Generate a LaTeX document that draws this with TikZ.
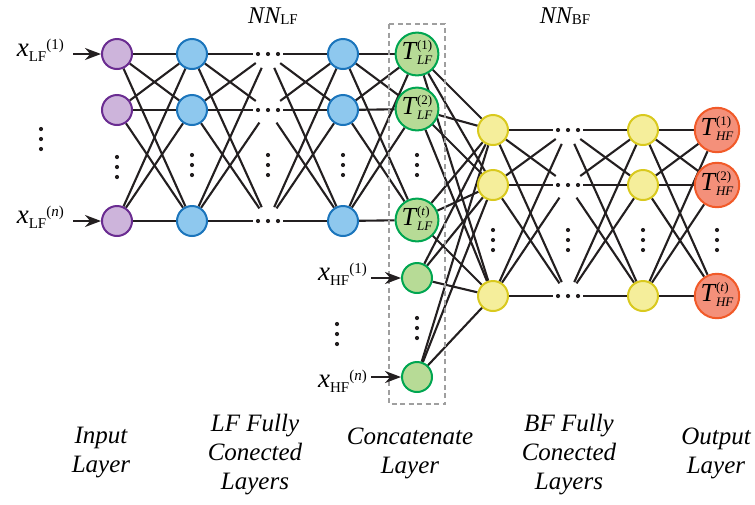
\documentclass[tikz,border=0pt]{standalone}
\usepackage{fontspec}
\setmainfont{Liberation Serif}
\newfontfamily\labelfont{Liberation Serif}
\usetikzlibrary{arrows.meta,backgrounds}

\definecolor{inFill}{HTML}{CDB4DB}\definecolor{inLine}{HTML}{6A2C91}
\definecolor{lfFill}{HTML}{8EC8EE}\definecolor{lfLine}{HTML}{1B75BC}
\definecolor{catFill}{HTML}{B7DB96}\definecolor{catLine}{HTML}{00A651}
\definecolor{bfFill}{HTML}{F5EE9B}\definecolor{bfLine}{HTML}{D9C91E}
\definecolor{outFill}{HTML}{F4907A}\definecolor{outLine}{HTML}{F15A29}
\definecolor{ink}{HTML}{231F20}

% sizes of the small index text
\newcommand\subidx[1]{{\fontsize{15}{15}\selectfont #1}}
% T with stacked super- and subscript
\newcommand\tlab[2]{{\labelfont\fontsize{26}{26}\selectfont\itshape T}\kern1pt%
  \raisebox{-5pt}{\fontsize{13}{15}\selectfont\renewcommand\arraystretch{1}%
  \begin{tabular}[b]{@{}l@{}}(#1)\\\itshape #2\end{tabular}}}
% x input label
\newcommand\xlab[2]{{\labelfont\fontsize{27}{27}\selectfont\itshape x}\raisebox{-5pt}{\subidx{#1}}\raisebox{7pt}{\subidx{(#2)}}}
% network name
\newcommand\nnlab[1]{{\fontsize{24}{24}\selectfont\itshape NN}\raisebox{-1pt}{{\fontsize{15}{15}\selectfont #1}}}
% rows and columns of dots
\newcommand\rowdots[1]{\foreach \d in {-10,0,10} \fill[ink] (#1) ++(\d,0) circle[radius=2.1];}
\newcommand\coldots[2]{\foreach \d in {-10,0,10} \fill[ink] (#1,#2) ++(0,\d) circle[radius=2.1];}

\tikzset{
  x=1pt, y=-1pt,
  font=\labelfont,
  neuron/.style={circle, inner sep=0pt, minimum size=30pt, line width=2pt},
  inneuron/.style={neuron, draw=inLine, fill=inFill},
  lfneuron/.style={neuron, draw=lfLine, fill=lfFill},
  catneuron/.style={neuron, draw=catLine, fill=catFill},
  tneuron/.style={neuron, minimum size=38pt, draw=catLine, fill=catFill},
  bfneuron/.style={neuron, draw=bfLine, fill=bfFill},
  outneuron/.style={neuron, minimum size=39pt, draw=outLine, fill=outFill},
  ghost/.style={circle, inner sep=0pt, minimum size=30pt},
  link/.style={draw=ink, line width=2.1pt},
  feed/.style={draw=ink, line width=2.1pt, -{Stealth[length=16pt,width=12pt]}},
  catbox/.style={draw=gray!75, line width=1.7pt, dash pattern=on 5pt off 3.5pt},
  caption/.style={align=center, font=\labelfont\fontsize{25}{29}\selectfont\itshape},
  title/.style={inner sep=0pt},
  xlabel/.style={inner sep=0pt, anchor=east}
}

\begin{document}
\begin{tikzpicture}
\useasboundingbox (0,0) rectangle (755,504);

% input layer
\node[inneuron] (i1) at (117,54) {};
\node[inneuron] (i2) at (117,110) {};
\node[inneuron] (i3) at (117,221) {};
% LF fully connected layers
\node[lfneuron] (h1) at (192,54) {};
\node[lfneuron] (h2) at (192,110) {};
\node[lfneuron] (h3) at (192,221) {};
\node[ghost] (p1) at (268,54) {};
\node[ghost] (p2) at (268,110) {};
\node[ghost] (p3) at (268,221) {};
\node[lfneuron] (g1) at (343,54) {};
\node[lfneuron] (g2) at (343,110) {};
\node[lfneuron] (g3) at (343,221) {};
% concatenate layer
\node[tneuron] (t1) at (417,54) {\tlab{1}{LF}};
\node[tneuron] (t2) at (417,109) {\tlab{2}{LF}};
\node[tneuron] (t3) at (417,220) {\tlab{\textit{t}}{LF}};
\node[catneuron] (c1) at (417,278) {};
\node[catneuron] (c2) at (417,377) {};
% BF fully connected layers
\node[bfneuron] (y1) at (493,130) {};
\node[bfneuron] (y2) at (493,185) {};
\node[bfneuron] (y3) at (493,296) {};
\node[ghost] (q1) at (568,130) {};
\node[ghost] (q2) at (568,185) {};
\node[ghost] (q3) at (568,296) {};
\node[bfneuron] (z1) at (643,130) {};
\node[bfneuron] (z2) at (643,185) {};
\node[bfneuron] (z3) at (643,296) {};
% output layer
\node[outneuron] (o1) at (717,130) {\tlab{1}{HF}};
\node[outneuron] (o2) at (717,185) {\tlab{2}{HF}};
\node[outneuron] (o3) at (717,296) {\tlab{\textit{t}}{HF}};

% connections, behind the neurons
\begin{scope}[on background layer]
  \foreach \a in {i1,i2,i3} \foreach \b in {h1,h2,h3} \draw[link] (\a) -- (\b);
  \foreach \a in {h1,h2,h3} \foreach \b in {p1,p2,p3} \draw[link] (\a) -- (\b);
  \foreach \a in {p1,p2,p3} \foreach \b in {g1,g2,g3} \draw[link] (\a) -- (\b);
  \foreach \a in {g1,g2,g3} \foreach \b in {t1,t2,t3} \draw[link] (\a) -- (\b);
  \foreach \a in {t1,t2,t3,c1,c2} \foreach \b in {y1,y2,y3} \draw[link] (\a) -- (\b);
  \foreach \a in {y1,y2,y3} \foreach \b in {q1,q2,q3} \draw[link] (\a) -- (\b);
  \foreach \a in {q1,q2,q3} \foreach \b in {z1,z2,z3} \draw[link] (\a) -- (\b);
  \foreach \a in {z1,z2,z3} \foreach \b in {o1,o2,o3} \draw[link] (\a) -- (\b);
\end{scope}

% elided neurons
\rowdots{p1}\rowdots{p2}\rowdots{p3}
\rowdots{q1}\rowdots{q2}\rowdots{q3}
\coldots{41}{139}
\coldots{117}{167}
\coldots{192}{165}\coldots{268}{165}\coldots{343}{165}
\coldots{417}{165}\coldots{417}{328}
\coldots{337}{334}
\coldots{493}{240}\coldots{568}{240}\coldots{643}{240}\coldots{717}{240}

% concatenate frame
\draw[catbox] (389,24) rectangle (445,404);

% inputs
\node[xlabel] (xl1) at (64,50) {\xlab{LF}{1}};
\node[xlabel] (xln) at (64,217) {\xlab{LF}{\textit{n}}};
\node[xlabel] (xh1) at (367,274) {\xlab{HF}{1}};
\node[xlabel] (xhn) at (367,381) {\xlab{HF}{\textit{n}}};
\coordinate (a1) at (73,54);
\coordinate (a2) at (73,221);
\coordinate (a3) at (371,278);
\coordinate (a4) at (371,377);
\draw[feed] (a1) -- (i1);
\draw[feed] (a2) -- (i3);
\draw[feed] (a3) -- (c1);
\draw[feed] (a4) -- (c2);

% network names
\node[title] (nnlf) at (273,16) {\nnlab{LF}};
\node[title] (nnbf) at (565,16) {\nnlab{BF}};

% layer captions
\node[caption] (capin) at (101,453) {Input\\Layer};
\node[caption] (caplf) at (255,455) {LF Fully\\Conected\\Layers};
\node[caption] (capcat) at (410,453) {Concatenate\\Layer};
\node[caption] (capbf) at (569,455) {BF Fully\\Conected\\Layers};
\node[caption] (capout) at (716,453) {Output\\Layer};
\end{tikzpicture}
\end{document}
